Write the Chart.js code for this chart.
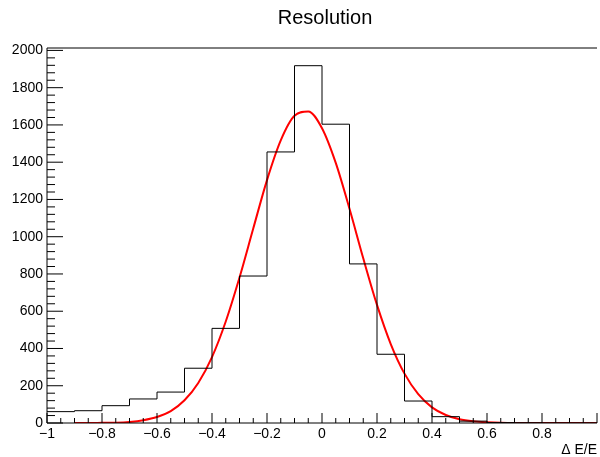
<!DOCTYPE html>
<html>
<head>
<meta charset="utf-8">
<script src="https://cdn.jsdelivr.net/npm/chart.js@4"></script>
<style>
  html, body { margin: 0; padding: 0; background: #fff; }
  canvas { display: block; }
</style>
</head>
<body>
<canvas id="chart" width="600" height="457"></canvas>
<script>
// histogram: bin edges (width 0.1) and counts per bin
const binEdges = [-1.0, -0.9, -0.8, -0.7, -0.6, -0.5, -0.4, -0.3, -0.2, -0.1, 0.0,
                  0.1, 0.2, 0.3, 0.4, 0.5, 0.6, 0.7, 0.8, 0.9, 1.0];
const counts = [61, 66, 93, 129, 166, 294, 508, 789, 1455, 1918,
                1604, 854, 369, 118, 34, 10, 2, 1, 0, 0];

// gaussian fit curve
const fitX = [-0.9, -0.85, -0.8, -0.75, -0.7, -0.65, -0.6, -0.55, -0.5, -0.45,
              -0.4, -0.35, -0.3, -0.25, -0.2, -0.15, -0.1, -0.05, 0.0, 0.05,
              0.1, 0.15, 0.2, 0.25, 0.3, 0.35, 0.4, 0.45, 0.5, 0.55,
              0.6, 0.65, 0.7, 0.75, 0.8, 0.85, 0.9, 0.95, 1.0];
const fitY = [0, 0, 1, 2, 6, 15, 32, 64, 122, 215,
              354, 545, 781, 1044, 1304, 1517, 1649, 1672, 1582, 1396,
              1150, 884, 634, 424, 265, 155, 84, 43, 20, 9,
              4, 1, 0, 0, 0, 0, 0, 0, 0];

// axis tick labels
const xTicks = [-1, -0.8, -0.6, -0.4, -0.2, 0, 0.2, 0.4, 0.6, 0.8, 1];
const yTicks = [0, 200, 400, 600, 800, 1000, 1200, 1400, 1600, 1800, 2000];

const titleText = 'Resolution';
const xTitle = '\u0394 E/E';
const yMax = 2013;
const FONT = "'Liberation Sans', Arial, Helvetica, sans-serif";

function fmtX(v) {
    const r = Math.round(v * 10) / 10;
    if (r === 1) return '';
    return r < 0 ? '\u2212' + Math.abs(r) : String(r);
}

// ROOT style frame with ticks pointing inside
const rootFrame = {
    id: 'rootFrame',
    afterDraw(chart) {
        const ctx = chart.ctx;
        const { left, right, top, bottom } = chart.chartArea;
        const xs = chart.scales.x, ys = chart.scales.y;
        ctx.save();
        ctx.strokeStyle = '#000';
        ctx.lineWidth = 1;
        ctx.beginPath();
        ctx.moveTo(left, top); ctx.lineTo(right, top);
        ctx.moveTo(left, top); ctx.lineTo(left, bottom);
        ctx.moveTo(left, bottom); ctx.lineTo(right, bottom);
        // y ticks: major every 200, minor every 40
        for (let v = 0; v <= 2000; v += 40) {
            const y = ys.getPixelForValue(v);
            const len = v % 200 === 0 ? 16 : 8;
            ctx.moveTo(left, y); ctx.lineTo(left + len, y);
        }
        // x ticks: major every 0.2, minor every 0.05
        for (let i = 0; i <= 40; i++) {
            const x = xs.getPixelForValue(-1 + i * 0.05);
            const len = i % 4 === 0 ? 10 : 5;
            ctx.moveTo(x, bottom); ctx.lineTo(x, bottom - len);
        }
        ctx.stroke();
        // title
        ctx.fillStyle = '#000';
        ctx.font = '20px ' + FONT;
        ctx.textAlign = 'center';
        ctx.textBaseline = 'middle';
        ctx.fillText(titleText, 325, 18);
        ctx.restore();
    }
};

const histData = binEdges.map((x, i) => ({ x: x, y: counts[Math.min(i, counts.length - 1)] }));
const fitData = fitX.map((x, i) => ({ x: x, y: fitY[i] }));

new Chart(document.getElementById('chart'), {
    type: 'line',
    data: {
        datasets: [
            {
                label: 'hist',
                data: histData,
                stepped: 'before',
                borderColor: '#000',
                borderWidth: 1,
                pointRadius: 0,
                fill: false
            },
            {
                label: 'fit',
                data: fitData,
                borderColor: '#ff0000',
                borderWidth: 2,
                pointRadius: 0,
                cubicInterpolationMode: 'monotone',
                fill: false
            }
        ]
    },
    options: {
        responsive: false,
        animation: false,
        layout: { padding: { top: 48, right: 0, left: 0, bottom: 0 } },
        plugins: {
            legend: { display: false },
            tooltip: { enabled: false },
            title: { display: false }
        },
        scales: {
            x: {
                type: 'linear',
                min: -1,
                max: 1,
                grid: { display: false, drawTicks: false },
                border: { display: false },
                ticks: {
                    autoSkip: false,
                    maxRotation: 0,
                    padding: 3,
                    color: '#000',
                    font: { family: FONT, size: 14 },
                    callback: fmtX
                },
                afterBuildTicks(scale) {
                    scale.ticks = xTicks.map(v => ({ value: v }));
                },
                title: {
                    display: true,
                    text: xTitle,
                    align: 'end',
                    color: '#000',
                    font: { family: FONT, size: 14, lineHeight: 1 },
                    padding: { top: 0, bottom: 0 }
                },
                afterFit(scale) { scale.height = 34; }
            },
            y: {
                type: 'linear',
                min: 0,
                max: yMax,
                grid: { display: false, drawTicks: false },
                border: { display: false },
                ticks: {
                    autoSkip: false,
                    padding: 4,
                    color: '#000',
                    font: { family: FONT, size: 14 },
                    callback: (v) => String(v)
                },
                afterBuildTicks(scale) {
                    scale.ticks = yTicks.map(v => ({ value: v }));
                },
                afterFit(scale) { scale.width = 47; }
            }
        }
    },
    plugins: [rootFrame]
});
</script>
</body>
</html>
